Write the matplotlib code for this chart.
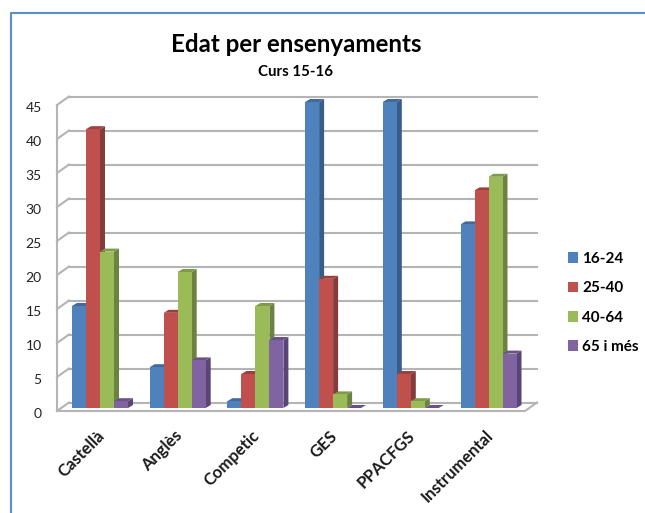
import matplotlib
matplotlib.use('Agg')
import matplotlib.pyplot as plt
from matplotlib.patches import Polygon, Patch
from matplotlib.lines import Line2D
from matplotlib.transforms import ScaledTranslation

plt.rcParams['font.family'] = ['Lato', 'DejaVu Sans']

categories = ['Castellà', 'Anglès', 'Competic', 'GES', 'PPACFGS', 'Instrumental']
age_groups = ['16-24', '25-40', '40-64', '65 i més']
edat_16_24 = [15, 6, 1, 45, 45, 27]
edat_25_40 = [41, 14, 5, 19, 5, 32]
edat_40_64 = [23, 20, 15, 2, 1, 34]
edat_65 = [1, 7, 10, 0, 0, 8]
y_ticks = [0, 5, 10, 15, 20, 25, 30, 35, 40, 45]

series = [edat_16_24, edat_25_40, edat_40_64, edat_65]
front = ['#4F81BD', '#C0504D', '#9BBB59', '#8064A2']
side = ['#385D8A', '#843C3A', '#6B8240', '#594675']
top = ['#41699A', '#9C403E', '#7F9A48', '#6A5287']

W, H = 645, 513
fig = plt.figure(figsize=(W / 100, H / 100), dpi=100)
ax = fig.add_axes([57 / W, (H - 411) / H, 480 / W, 314 / H])

# one category = 77.7 px, one y unit = 6.8 px
px = 1 / 77.7
py = 1 / 6.8
ax.set_xlim(-43 * px, 437 * px)
ax.set_ylim(0, 314 * py)

# walls of the fake 3d box
wall_x = 12 * px
wall_y = 8.5 * py
grey = '#B4B4B4'
x0 = ax.get_xlim()[0]
x1 = ax.get_xlim()[1]
for v in y_ticks:
    ax.plot([x0 + wall_x, x1], [v + wall_y, v + wall_y], color=grey, lw=1.5, clip_on=False, zorder=1)
    ax.plot([x0, x0 + wall_x], [v, v + wall_y], color=grey, lw=1.5, clip_on=False, zorder=1)
ax.plot([x0, x0], [0, 45], color=grey, lw=1.5, clip_on=False, zorder=1)
ax.plot([x0, x1 - wall_x, x1], [0, 0, wall_y], color=grey, lw=1.5, clip_on=False, zorder=1)

# bars
bar_w = 14 * px
lift = 3 * py
dx = 5 * px
dy = 3 * py
z = 3
for i, cat in enumerate(categories):
    for s, values in enumerate(series):
        v = values[i]
        left = i + (s - 2) * bar_w
        right = left + bar_w
        y0 = lift
        y1 = lift + v
        ax.add_patch(Polygon([(right, y0), (right + dx, y0 + dy), (right + dx, y1 + dy), (right, y1)],
                             facecolor=side[s], edgecolor='none', zorder=z))
        ax.add_patch(Polygon([(left, y1), (left + dx, y1 + dy), (right + dx, y1 + dy), (right, y1)],
                             facecolor=top[s], edgecolor='none', zorder=z))
        ax.bar(left, v, bar_w, bottom=lift, align='edge', color=front[s], linewidth=0, zorder=z)
        z += 1

for sp in ax.spines.values():
    sp.set_visible(False)
ax.set_xticks(range(len(categories)))
ax.set_xticklabels(categories, rotation=45, ha='right', rotation_mode='anchor',
                   fontsize=12, fontweight='bold', color='#1a1a1a')
ax.set_yticks(y_ticks)
ax.set_yticklabels([str(v) for v in y_ticks], fontsize=10, color='#222222')
ax.tick_params(axis='x', length=0, pad=12)
ax.tick_params(axis='y', length=0, pad=11)

# nudge the tick labels a few px
for lab in ax.get_xticklabels():
    lab.set_transform(lab.get_transform() + ScaledTranslation(-4 / 100, 0, fig.dpi_scale_trans))
for lab in ax.get_yticklabels():
    lab.set_transform(lab.get_transform() + ScaledTranslation(0, -1.5 / 100, fig.dpi_scale_trans))

fig.text(296 / W, 1 - 45 / H, 'Edat per ensenyaments', ha='center', va='center',
         fontsize=17.4, fontweight='bold', color='black')
fig.text(296 / W, 1 - 71.5 / H, 'Curs 15-16', ha='center', va='center',
         fontsize=10.8, fontweight='bold', color='black')

handles = [Patch(facecolor=c, edgecolor='none') for c in front]
fig.legend(handles, age_groups, loc='center left', bbox_to_anchor=(568 / W, 1 - 303 / H), frameon=False,
           prop={'weight': 'bold', 'size': 11}, handlelength=0.68, handleheight=0.68,
           handletextpad=0.25, labelspacing=1.0, borderpad=0, borderaxespad=0)

# blue frame of the pasted chart
fig.add_artist(Line2D([10.5 / W, 10.5 / W, 1], [0, 1 - 12.5 / H, 1 - 12.5 / H],
                      color='#5B8FCB', lw=1.5, transform=fig.transFigure))

fig.savefig('out.png', dpi=100)
